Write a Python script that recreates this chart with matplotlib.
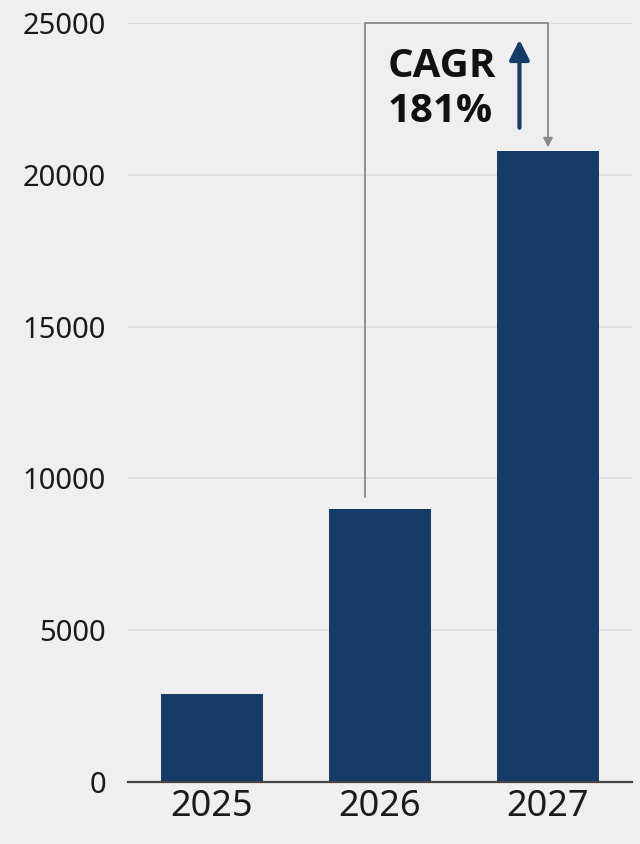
import matplotlib.pyplot as plt

# data
years = ["2025", "2026", "2027"]
values = [2900, 9000, 20800]
yticks = [0, 5000, 10000, 15000, 20000, 25000]
cagr_label = "CAGR\n181%"

BG = "#efefef"
BAR = "#143c66"

plt.rcParams["font.family"] = ["Noto Sans", "DejaVu Sans"]

fig = plt.figure(figsize=(6.4, 8.44), dpi=100, facecolor=BG)
ax = fig.add_axes([128 / 640, 1 - 782 / 844, 504 / 640, (782 - 23) / 844])
ax.set_facecolor(BG)

x = list(range(len(years)))
ax.bar(x, values, width=0.61, color=BAR, zorder=3)

ax.set_xlim(-0.5, 2.5)
ax.set_ylim(0, 25000)
ax.set_yticks(yticks)
ax.set_yticklabels([str(t) for t in yticks], fontsize=21, color="#1a1a1a")
ax.set_xticks(x)
ax.set_xticklabels(years, fontsize=26, color="#1a1a1a")
ax.tick_params(axis="y", length=0, pad=16)
ax.tick_params(axis="x", length=0, pad=5)

ax.grid(axis="y", color="#dadada", linewidth=1.1, zorder=0)
for s in ["left", "right", "top"]:
    ax.spines[s].set_visible(False)
ax.spines["bottom"].set_color("#444444")
ax.spines["bottom"].set_linewidth(1.6)
ax.spines["bottom"].set_zorder(4)

# CAGR bracket from 2026 to 2027
x_left = 0.91
x_right = 2.0
ax.plot([x_left, x_left, x_right], [values[1] + 400, 25000, 25000],
        color="#8a8a8a", linewidth=1.3, zorder=4, clip_on=False)
ax.annotate("", xy=(x_right, values[2] + 100), xytext=(x_right, 25000),
            arrowprops=dict(arrowstyle="-|>", color="#8a8a8a", lw=1.3,
                            mutation_scale=14, shrinkA=0, shrinkB=0),
            zorder=4)

ax.text(1.045, 22830, cagr_label, fontsize=29, fontweight="bold",
        family=["Open Sans", "DejaVu Sans"],
        color="#111111", ha="left", va="center", linespacing=1.2, zorder=5)

ax.annotate("", xy=(1.83, 24450), xytext=(1.83, 21550),
            arrowprops=dict(arrowstyle="-|>", color=BAR, lw=3.0,
                            mutation_scale=30, shrinkA=0, shrinkB=0),
            zorder=5)

fig.savefig("out.png", dpi=100, facecolor=BG)
